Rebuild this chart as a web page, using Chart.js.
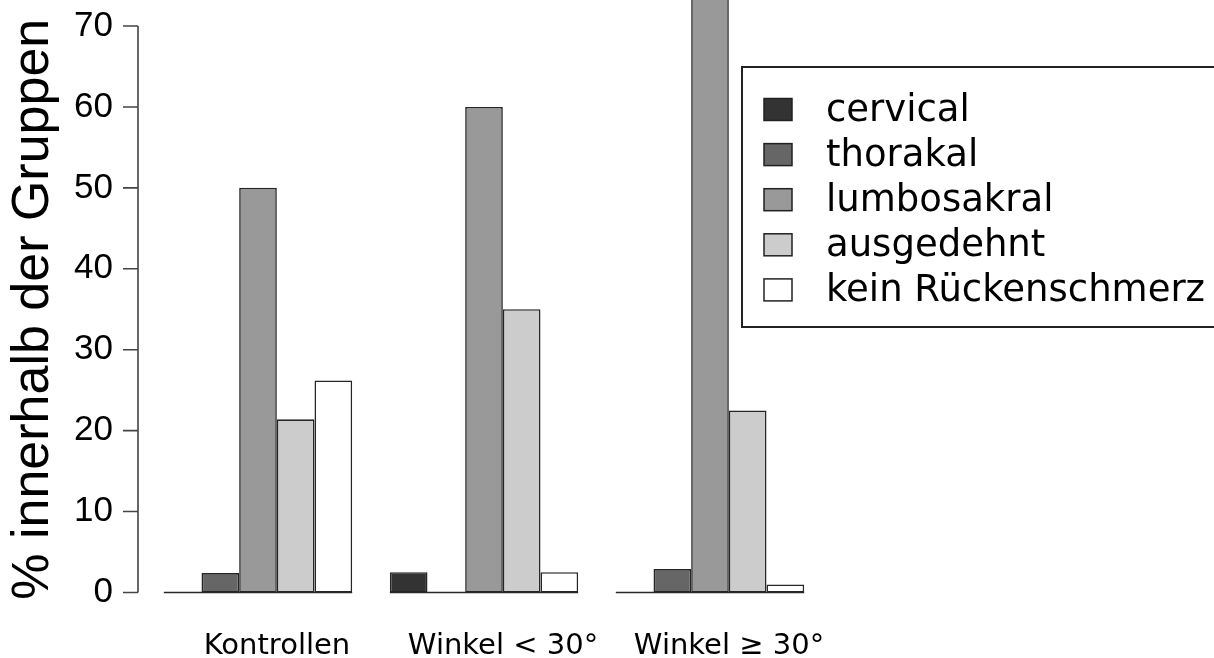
<!DOCTYPE html>
<html>
<head>
<meta charset="utf-8">
<script src="https://cdn.jsdelivr.net/npm/chart.js@4/dist/chart.umd.min.js"></script>
<style>
  html, body { margin: 0; padding: 0; background: #fff; }
  canvas { display: block; }
</style>
</head>
<body>
<canvas id="chart" width="1214" height="658"></canvas>
<script>
// groups and back pain location shares (% within group)
const groups = ["Kontrollen", "Winkel < 30°", "Winkel ≥ 30°"];
const seriesNames = ["cervical", "thorakal", "lumbosakral", "ausgedehnt", "kein Rückenschmerz"];
const cervical = [0, 2.5, 0];
const thorakal = [2.4, 0, 2.9];
const lumbosakral = [50, 60, 73.6];
const ausgedehnt = [21.4, 35, 22.5];
const keinSchmerz = [26.2, 2.5, 1.0];
const yTicks = [0, 10, 20, 30, 40, 50, 60, 70];

const fills = ["#333333", "#666666", "#999999", "#cccccc", "#ffffff"];
const edge = "#262626";

// R draws the axis a bit left of the first bar group
const axisShift = 7;

const rAxis = {
    id: "rAxis",
    afterDatasetsDraw(chart) {
        const ctx = chart.ctx;
        const y = chart.scales.y;
        const y0 = y.getPixelForValue(0);
        ctx.save();
        ctx.strokeStyle = edge;
        ctx.lineWidth = 1.6;
        // baseline under every group (also shows the zero-height bars)
        const first = chart.getDatasetMeta(0).data;
        const last = chart.getDatasetMeta(chart.data.datasets.length - 1).data;
        ctx.beginPath();
        groups.forEach((g, i) => {
            ctx.moveTo(first[i].x - first[i].width / 2, y0);
            ctx.lineTo(last[i].x + last[i].width / 2, y0);
        });
        ctx.stroke();

        // y axis line with outward ticks
        const x0 = chart.chartArea.left - axisShift;
        ctx.strokeStyle = "#444";
        ctx.beginPath();
        ctx.moveTo(x0, y.getPixelForValue(yTicks[0]));
        ctx.lineTo(x0, y.getPixelForValue(yTicks[yTicks.length - 1]));
        yTicks.forEach(v => {
            const py = y.getPixelForValue(v);
            ctx.moveTo(x0 - 15, py);
            ctx.lineTo(x0, py);
        });
        ctx.stroke();
        ctx.restore();
    }
};

const boxLegend = {
    id: "boxLegend",
    afterDraw(chart) {
        const ctx = chart.ctx;
        ctx.save();
        ctx.strokeStyle = "#222";
        ctx.lineWidth = 2;
        ctx.strokeRect(742, 67, 500, 260);
        ctx.font = "37px 'DejaVu Sans'";
        ctx.fillStyle = "#000";
        ctx.textBaseline = "alphabetic";
        chart.data.datasets.forEach((ds, i) => {
            const cy = 109.5 + i * 45.1;
            ctx.fillStyle = ds.backgroundColor;
            ctx.fillRect(764, cy - 11, 28, 22);
            ctx.lineWidth = 1.5;
            ctx.strokeRect(764, cy - 11, 28, 22);
            ctx.fillStyle = "#000";
            ctx.fillText(ds.label, 826, cy + 11);
        });
        ctx.restore();
    }
};

const seriesData = [cervical, thorakal, lumbosakral, ausgedehnt, keinSchmerz];

new Chart(document.getElementById("chart"), {
    type: "bar",
    data: {
        labels: groups,
        datasets: seriesNames.map((name, i) => ({
            label: name,
            data: seriesData[i],
            backgroundColor: fills[i],
            borderColor: edge,
            borderWidth: 1.6,
            borderSkipped: false,
            categoryPercentage: 5 / 6,
            barPercentage: 1,
            clip: false
        }))
    },
    options: {
        responsive: false,
        animation: false,
        devicePixelRatio: 1,
        layout: { padding: { top: 26, right: 391, bottom: 0, left: 0 } },
        plugins: {
            legend: { display: false },
            tooltip: { enabled: false }
        },
        scales: {
            x: {
                grid: { display: false, drawTicks: false },
                border: { display: false },
                ticks: {
                    color: "#000",
                    font: { family: "'DejaVu Sans'", size: 29, lineHeight: 1 },
                    padding: 39,
                    labelOffset: 19,
                    maxRotation: 0,
                    autoSkip: false
                },
                afterFit: s => { s.height = 65.5; }
            },
            y: {
                min: 0,
                max: 70,
                grid: { display: false, drawTicks: true, tickLength: 32 },
                border: { display: false },
                ticks: {
                    stepSize: 10,
                    color: "#000",
                    font: { family: "'Liberation Sans'", size: 35, lineHeight: 1 },
                    padding: 0
                },
                title: {
                    display: true,
                    text: "% innerhalb der Gruppen",
                    color: "#000",
                    font: { family: "'Liberation Sans'", size: 52, lineHeight: 1.2 },
                    padding: { top: 2, bottom: 0 }
                },
                afterFit: s => { s.width = 145; }
            }
        }
    },
    plugins: [rAxis, boxLegend]
});
</script>
</body>
</html>
